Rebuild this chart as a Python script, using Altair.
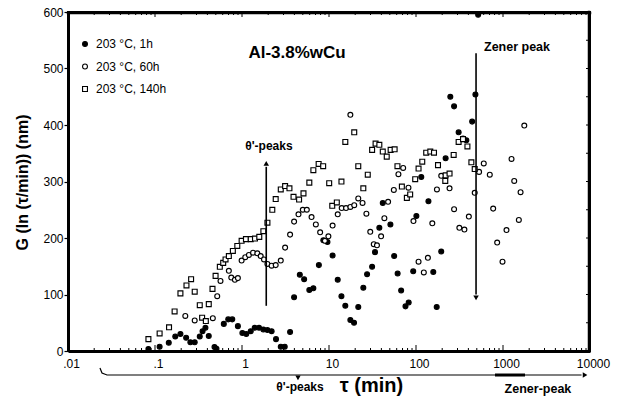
import altair as alt
import pandas as pd

FONT = "Liberation Sans"
series_names = ["203 °C, 1h", "203 °C, 60h", "203 °C, 140h"]

tau_1h = [0.084, 0.113, 0.144, 0.171, 0.196, 0.228, 0.255, 0.286, 0.327, 0.352, 0.380, 0.415,
          0.483, 0.509, 0.618, 0.695, 0.773, 0.897, 1.01, 1.12, 1.26, 1.40, 1.57, 1.76, 1.96,
          2.19, 2.46, 2.79, 3.10, 3.57, 3.97, 4.62, 5.18, 5.94, 6.61, 7.65, 8.61, 9.6, 11.0,
          12.6, 13.9, 15.4, 17.6, 19.4, 21.7, 24.8, 27.4, 31.3, 33.8, 37.9, 41.5, 50.8, 56.1,
          61.5, 67.5, 75.7, 82.4, 92.9, 101, 115, 139, 158, 173, 195, 219, 248, 274, 309, 347,
          379, 442, 482, 518]
g_1h = [3.5, 7.6, 14.5, 25.7, 30, 23.5, 15.4, 15.4, 25.7, 35, 41, 26.5,
        7, 4, 48, 56, 56, 44, 32, 30, 35, 41, 41, 38, 37,
        35, 21, 7.6, 7.6, 33.6, 95, 135, 127, 108, 111, 152, 196, 193, 169,
        126, 97, 80, 55, 50, 78, 112, 136, 149, 175, 218, 262, 224, 168,
        137, 107, 79, 86, 141, 239, 308, 265, 140, 78, 176, 341, 450, 433, 387, 376,
        373, 406, 454, 595]

tau_60h = [0.223, 0.286, 0.462, 0.519, 0.566, 0.706, 0.753, 0.828, 0.897, 0.99, 1.09, 1.20,
           1.34, 1.50, 1.64, 1.79, 1.96, 2.19, 2.44, 2.79, 3.13, 3.57, 3.97, 4.46, 5.00, 5.56,
           6.30, 7.06, 7.91, 8.97, 9.84, 11.0, 12.6, 14.0, 15.7, 17.6, 19.5, 21.7, 24.3, 26.9,
           29.8, 32.7, 35.6, 39.7, 43.3, 47.8, 55.6, 17.6, 71.2, 62.8, 81.9, 93.5, 107, 123,
           137, 154, 174, 195, 243, 274, 315, 360, 405, 473, 531, 601, 705, 771, 857, 987,
           1097, 1253, 1346, 1521, 1592, 1757]
g_60h = [62, 54, 58, 97, 124, 142, 130, 126, 129, 160, 166, 170,
         174, 173, 168, 162, 154, 151, 152, 160, 183, 206, 229, 242, 250, 250,
         237, 224, 210, 195, 203, 222, 242, 253, 253, 255, 258, 270, 262, 243,
         211, 189, 187, 203, 235, 264, 285, 418, 324, 313, 289, 230, 158, 139,
         165, 226, 286, 310, 288, 251, 218, 215, 238, 280, 317, 332, 312, 252, 192, 158,
         214, 340, 301, 232, 281, 399]

tau_140h = [0.084, 0.113, 0.145, 0.168, 0.196, 0.230, 0.260, 0.286, 0.327, 0.348, 0.384, 0.415,
            0.458, 0.497, 0.556, 0.608, 0.647, 0.706, 0.785, 0.883, 0.99, 1.11, 1.26, 1.41,
            1.58, 1.76, 1.96, 2.23, 2.44, 2.79, 3.13, 3.51, 3.91, 4.53, 5.09, 5.94, 6.61, 7.60,
            8.57, 10.05, 13.9, 10.9, 12.3, 15.4, 19.5, 21.7, 24.8, 27.9, 31.3, 34.3, 37.9, 41.5,
            46.1, 51.1, 56.8, 61.2, 68.8, 78.5, 85.7, 97.9, 107, 118, 131, 146, 161, 179, 219,
            243, 217, 271, 309, 347, 390, 433, 473]
g_140h = [21, 31, 42, 70, 102, 116, 127, 105, 81, 59, 53, 83,
          110, 133, 149, 156, 162, 168, 177, 186, 195, 198, 198, 199,
          202, 212, 227, 250, 269, 286, 292, 288, 273, 268, 279, 298, 320, 331,
          327, 297, 300, 257, 263, 370, 387, 327, 288, 312, 356, 367, 365, 353,
          344, 356, 357, 327, 291, 271, 277, 304, 323, 335, 351, 353, 351, 329, 311,
          314, 301, 347, 370, 375, 362, 334, 322]

x_ticks = [0.01, 0.1, 1, 10, 100, 1000, 10000]
y_ticks = [0, 100, 200, 300, 400, 500, 600]

rows = []
for name, ts, gs in [(series_names[0], tau_1h, g_1h), (series_names[1], tau_60h, g_60h),
                     (series_names[2], tau_140h, g_140h)]:
    for t, g in zip(ts, gs):
        rows.append({"tau": t, "G": g, "series": name})
df = pd.DataFrame(rows)

W, H = 522, 339
xscale = alt.Scale(type="log", domain=[0.01, 10000], nice=False)
yscale = alt.Scale(domain=[0, 600], nice=False, zero=False)

legend = alt.Legend(title=None, orient="none", legendX=11, legendY=26, padding=0,
                    labelFont=FONT, labelFontSize=12, labelColor="black",
                    symbolStrokeColor="black", symbolStrokeWidth=1.1, symbolSize=24,
                    rowPadding=10.5, labelOffset=5)

xaxis = alt.Axis(values=x_ticks, tickSize=0, domainWidth=3, domainColor="black",
                 labelExpr="datum.value == 0.01 ? '.01' : datum.value == 0.1 ? '.1' : format(datum.value, 'd')",
                 labelFont=FONT, labelFontSize=12, labelColor="black", labelPadding=7,
                 labelOffset=3, labelFlush=False, labelOverlap=False, grid=False,
                 title="τ (min)", titleFont=FONT, titleFontSize=20, titleFontWeight="bold",
                 titleColor="black", titleX=303, titleY=34, titleBaseline="middle", titleAlign="center")
yaxis = alt.Axis(values=y_ticks, tickSize=4, tickColor="black", tickWidth=1.2,
                 domainWidth=3, domainColor="black",
                 labelFont=FONT, labelFontSize=12, labelColor="black", labelPadding=1, grid=False,
                 title="G (ln (τ/min)) (nm)", titleFont=FONT, titleFontSize=16, titleFontWeight="bold",
                 titleColor="black", titleX=-46, titleY=170, titleAngle=270,
                 titleAlign="center", titleBaseline="middle")


def X(field):
    return alt.X(field, scale=xscale, axis=xaxis)


def Y(field):
    return alt.Y(field, scale=yscale, axis=yaxis)


points = alt.Chart(df).mark_point(size=24, strokeWidth=1.15, opacity=1, fillOpacity=1).encode(
    x=X("tau:Q"),
    y=Y("G:Q"),
    shape=alt.Shape("series:N", scale=alt.Scale(domain=series_names,
                                                range=["circle", "circle", "square"]), legend=legend),
    fill=alt.Fill("series:N", scale=alt.Scale(domain=series_names,
                                              range=["black", "white", "white"]), legend=legend),
    stroke=alt.Stroke("series:N", scale=alt.Scale(domain=series_names,
                                                  range=["black", "black", "black"]), legend=legend),
)

# frame: top and right edges of the plot box (drawn as pixel-positioned rules)
frame_top = alt.Chart(pd.DataFrame({"tau": [0.01]})).mark_rule(
    color="black", strokeWidth=2.5, strokeCap="square").encode(
    x=alt.value(0), x2=alt.value(W), y=alt.value(1), y2=alt.value(1))
frame_right = alt.Chart(pd.DataFrame({"tau": [0.01]})).mark_rule(
    color="black", strokeWidth=2.5, strokeCap="square").encode(
    x=alt.value(W - 1), x2=alt.value(W - 1), y=alt.value(0), y2=alt.value(H))

minor = [m * d for d in [0.01, 0.1, 1, 10, 100, 1000] for m in range(2, 10)]
tick_df = pd.DataFrame({"tau": minor})
major_df = pd.DataFrame({"tau": x_ticks[1:-1]})
ytick_df = pd.DataFrame({"G": [50, 100, 150, 200, 250, 300, 350, 400, 450, 500, 550]})


def xrule(data, y1, y2):
    return alt.Chart(data).mark_rule(color="black", strokeWidth=1).encode(
        x=X("tau:Q"), y=alt.value(y1), y2=alt.value(y2))


ticks = [xrule(tick_df, H, H - 3), xrule(tick_df, 0, 3), xrule(major_df, H, H - 6), xrule(major_df, 0, 5)]
rticks = alt.Chart(ytick_df).mark_rule(color="black", strokeWidth=1).encode(
    y=Y("G:Q"), x=alt.value(W), x2=alt.value(W - 4))

arrow_df = pd.DataFrame({"tau": [1.9, 490], "G": [80, 527], "G2": [326, 100]})
arrows = alt.Chart(arrow_df).mark_rule(color="black", strokeWidth=1.6).encode(
    x=X("tau:Q"), y=Y("G:Q"), y2="G2:Q")
head_df = pd.DataFrame({"tau": [1.9, 490], "G": [332, 94], "shape": ["triangle-up", "triangle-down"]})
heads = alt.Chart(head_df).mark_point(filled=True, color="black", size=30, opacity=1).encode(
    x=X("tau:Q"), y=Y("G:Q"),
    shape=alt.Shape("shape:N", scale=None, legend=None))

txt_df = pd.DataFrame({
    "tau": [4.29, 2.04, 1449, 4.64, 2523],
    "G": [527, 363, 538, -64, -67],
    "label": ["Al-3.8%wCu", "θ'-peaks", "Zener peak", "θ'-peaks", "Zener-peak"],
    "size": [17, 12, 12.5, 12, 12.5],
})
texts = alt.Chart(txt_df).mark_text(font=FONT, fontWeight="bold", color="black",
                                    align="center", baseline="middle").encode(
    x=X("tau:Q"), y=Y("G:Q"),
    text="label:N",
    size=alt.Size("size:Q", scale=None, legend=None))

br_df = pd.DataFrame({"tau": [0.0233, 0.0246, 0.0281, 8000], "G": [-30, -39, -42.5, -42.5], "i": [0, 1, 2, 3]})
bracket = alt.Chart(br_df).mark_line(color="black", strokeWidth=1.2).encode(
    x=X("tau:Q"), y=Y("G:Q"), order="i:Q")
thick_df = pd.DataFrame({"tau": [809], "tau2": [1791], "G": [-42.5]})
thick = alt.Chart(thick_df).mark_rule(color="black", strokeWidth=3).encode(
    x=X("tau:Q"), x2="tau2:Q", y=Y("G:Q"))
bh_df = pd.DataFrame({"tau": [8770, 4.40], "G": [-42.5, -47.5], "shape": ["triangle-right", "triangle-down"]})
bheads = alt.Chart(bh_df).mark_point(filled=True, color="black", size=28, opacity=1).encode(
    x=X("tau:Q"), y=Y("G:Q"),
    shape=alt.Shape("shape:N", scale=None, legend=None))

chart = alt.layer(points, *ticks, rticks, arrows, heads, texts,
                  bracket, thick, bheads, frame_top, frame_right).properties(
    width=W, height=H,
    padding={"left": 68, "top": 12, "right": 28, "bottom": 52},
    autosize="none",
    background="white",
).configure_view(stroke="black", strokeWidth=2)

chart.save("out.html", embed_options={"renderer": "svg", "actions": False})
